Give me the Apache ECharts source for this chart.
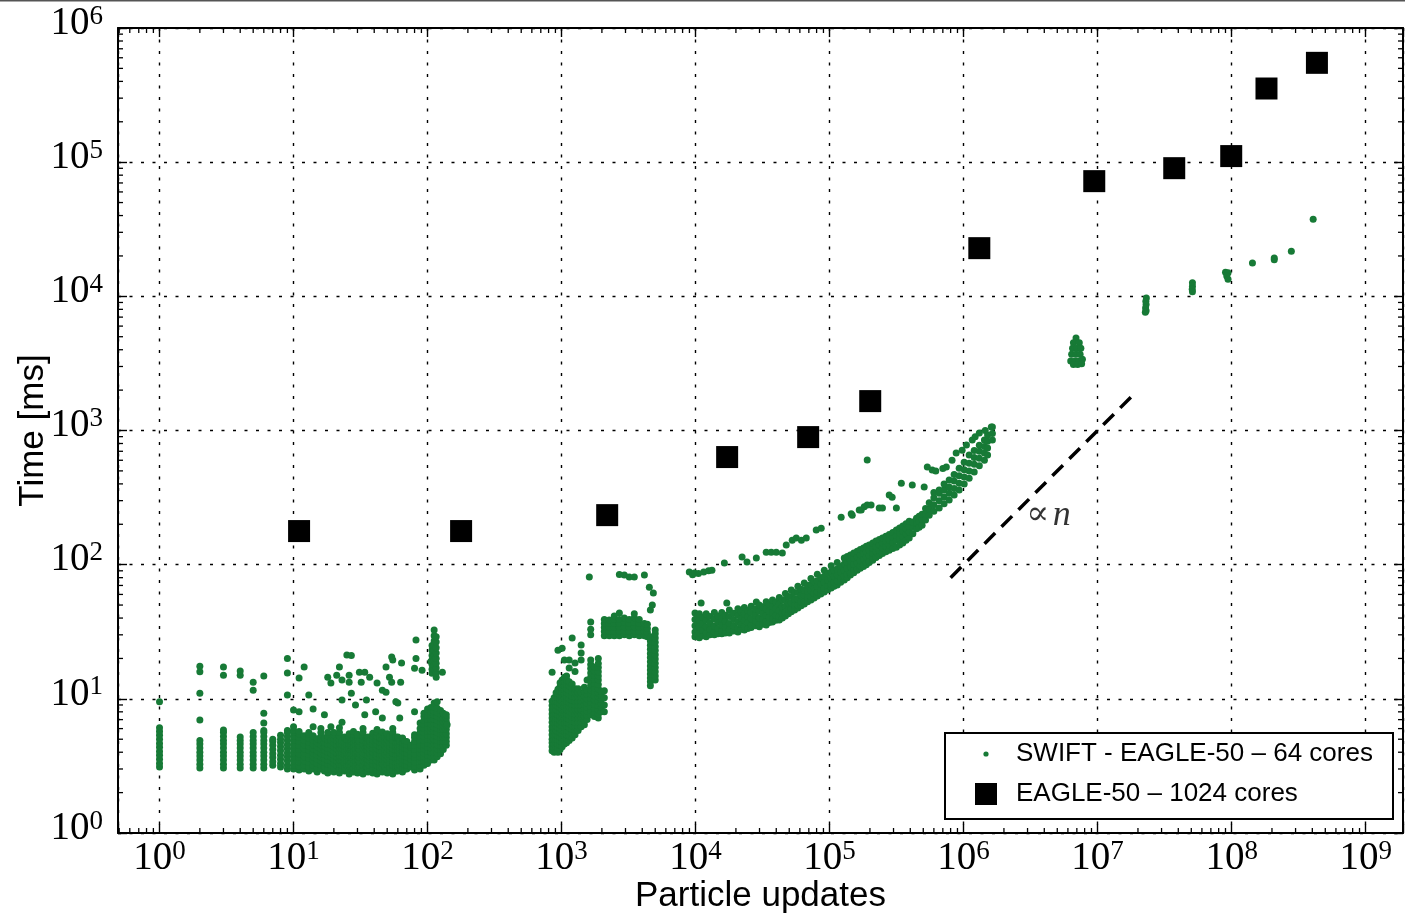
<!DOCTYPE html>
<html><head><meta charset="utf-8">
<script src="https://cdn.jsdelivr.net/npm/echarts@6/dist/echarts.min.js"></script>
<style>html,body{margin:0;padding:0;background:#fff;overflow:hidden}#chart{width:1405px;height:915px}</style>
</head><body><div id="chart"></div>
<script>
// ---------- data ----------
const seriesNames = ['SWIFT - EAGLE-50 – 64 cores', 'EAGLE-50 – 1024 cores'];
const xAxisTitle = 'Particle updates';
const yAxisTitle = 'Time [ms]';
const guideLabel = '∝ n';
const xRange = [0.49, 1.9e9];
const yRange = [1, 1e6];
const minorMultipliers = [2, 3, 4, 5, 6, 7, 8, 9];

// EAGLE-50, 1024 cores (black squares)
const eagleN = [11, 178, 2190, 17200, 69200, 201000, 1.31e6, 9.44e6, 3.73e7, 9.93e7, 1.82e8, 4.33e8];
const eagleT = [178, 178, 234, 634, 893, 1656, 22860, 72200, 90200, 111000, 354000, 550000];

// proportional-to-n guide line and its label
const guideN = [8.0e5, 1.8e7];
const guideT = [80, 1800];
const guideLabelAt = [4.3e6, 234];

// SWIFT, 64 cores: columns [n, [times...]]
const swiftSmallN = [
  [1,[3.1,3.3,3.55,3.8,4.05,4.35,4.65,5.0,5.35,5.7,6.1,9.5]],
  [2,[3.05,3.25,3.5,3.75,4.0,4.3,4.6,4.9,6.95,11,15.9,17.5]],
  [3,[3.05,3.25,3.5,3.75,4.0,4.3,4.6,4.9,5.25,5.6,5.85,15,17.3]],
  [4,[3.05,3.25,3.5,3.75,4.0,4.3,4.6,4.9,5.2,15,16.1]],
  [5,[3.05,3.25,3.5,3.75,4.0,4.3,4.6,4.9,5.25,5.6,11.6,13.3]],
  [6,[3.05,3.25,3.5,3.75,4.0,4.3,4.6,4.9,5.25,5.6,5.8,6.6,7.8,14.8]],
  [7,[3.2,3.4,3.65,3.9,4.2,4.5,4.8,5.0]],
  [8,[3.1,3.3,3.55,3.8,4.1,4.4,4.7,5.0,5.35]],
  [9,[3.0,3.2,3.45,3.7,3.95,4.25,4.55,4.9,5.25,5.6,5.8,10.7,15.6,20]]
];
const swiftBand = [
  [10,[3.0,3.2,3.45,3.7,3.95,4.25,4.55,4.9,5.25,5.6,5.8,6.2,8.25]],
  [11,[2.95,3.15,3.4,3.65,3.9,4.2,4.5,4.8,5.15,5.5,5.7,8.0,14.3]],
  [12,[3.0,3.2,3.45,3.7,3.95,4.25,4.55,4.9,5.3,17.3]],
  [13,[2.9,3.1,3.35,3.6,3.85,4.15,4.45,4.75,5.1,5.45,5.6,10.7]],
  [14,[3.0,3.2,3.45,3.7,3.95,4.25,4.55,4.9,5.3,6.2,8.4]],
  [15,[2.85,3.05,3.3,3.55,3.8,4.1,4.4,4.7,5.05]],
  [16,[3.0,3.2,3.45,3.7,3.95,4.25,4.55,4.9,5.25,5.6,6.0]],
  [17,[2.9,3.1,3.35,3.6,3.85,4.15,4.45,4.75,5.1,7.6]],
  [18,[2.8,3.0,3.25,3.5,3.75,4.0,4.3,4.6,4.95,5.3,5.6,14.5]],
  [19,[3.0,3.2,3.45,3.7,3.95,4.25,4.55,4.9,6.2,13.1]],
  [20,[2.85,3.05,3.3,3.55,3.8,4.1,4.4,4.7,5.05,5.4,5.6]],
  [21,[3.0,3.2,3.45,3.7,3.95,4.25,4.55,4.9,15.0]],
  [22,[2.8,3.0,3.25,3.5,3.75,4.0,4.3,4.6,4.95,5.3,5.6,6.1,17.3]],
  [23,[3.0,3.2,3.45,3.7,3.95,4.25,4.55,4.85,6.7,9.8,13.8]],
  [24,[2.9,3.1,3.35,3.6,3.85,4.15,4.45,4.75,5.1,5.2]],
  [25,[3.0,3.2,3.45,3.7,3.95,4.25,4.55,4.95,21.2]],
  [26,[2.75,2.95,3.2,3.45,3.7,3.95,4.25,4.55,4.9,5.25,5.5,13.3,15]],
  [27,[2.95,3.15,3.4,3.65,3.9,4.2,4.5,4.8,11,21]],
  [28,[2.85,3.05,3.3,3.55,3.8,4.1,4.4,4.7,5.05,5.4,5.7]],
  [29,[3.0,3.2,3.45,3.7,3.95,4.25,4.55,4.9,9]],
  [30,[2.8,3.0,3.25,3.5,3.75,4.0,4.3,4.6,4.95,5.3,5.45]],
  [31,[2.95,3.15,3.4,3.65,3.9,4.2,4.5,4.8,15.8]],
  [32,[13.3]],
  [33,[2.75,2.95,3.2,3.45,3.7,3.95,4.25,4.55,4.9,5.25,5.6,6.0]],
  [34,[7.6,15.8]],
  [35,[2.9,3.1,3.35,3.6,3.85,4.15,4.45,4.75,5.1,9.8]],
  [36,[2.85,3.05,3.3,3.55,3.8,4.1,4.4,4.7,5.05,5.2]],
  [37,[3.0,3.2,3.45,3.7,3.95,4.25,4.55,4.85,14.5]],
  [39,[2.8,3.0,3.25,3.5,3.75,4.0,4.3,4.6,4.95,5.3,5.55]],
  [41,[2.9,3.1,3.35,3.6,3.85,4.15,4.45,4.75,5.1,5.25,8.0]],
  [42,[2.75,2.95,3.2,3.45,3.7,3.95,4.25,4.55,4.9,5.25,5.6,5.9,13.1]],
  [44,[2.9,3.1,3.35,3.6,3.85,4.15,4.45,4.75,5.1,5.2]],
  [46,[2.85,3.05,3.3,3.55,3.8,4.1,4.4,4.7,5.05,5.4,5.65,7.2,11.6]],
  [48,[2.95,3.15,3.4,3.65,3.9,4.2,4.5,4.8,5.15,5.3]],
  [49,[11.2,17.3]],
  [50,[2.8,3.0,3.25,3.5,3.75,4.0,4.3,4.6,4.95,5.3,5.5]],
  [52,[2.9,3.1,3.35,3.6,3.85,4.15,4.45,4.75,5.1,5.2,14.5]],
  [54,[13.3,20.5]],
  [55,[2.75,2.95,3.2,3.45,3.7,3.95,4.25,4.55,4.9,5.25,5.6,6.0,19.5]],
  [58,[2.9,3.1,3.35,3.6,3.85,4.15,4.45,4.75,5.1,5.2,9.5]],
  [60,[2.9,3.1,3.35,3.6,3.85,4.15,4.45,4.75,5.1,5.2,9.3]],
  [62,[3.0,3.2,3.45,3.7,3.95,4.25,4.55,4.85,7.2]],
  [63,[13.3]],
  [64,[18.5]],
  [65,[2.85,3.05,3.3,3.55,3.8,4.1,4.4,4.7,5.05,5.1]],
  [68,[3.0,3.2,3.45,3.7,3.95,4.25,4.55,4.8]],
  [70,[3.0,3.2,3.45,3.7,3.95,4.25,4.55,4.8]],
  [75,[3.1,3.3,3.55,3.8,4.05,4.35,4.5]]
];
const swiftNear100 = [
  [80,[2.95,3.15,3.4,3.65,3.9,4.2,4.5,4.8,5.15,5.4,8.0,16.9]],
  [82,[20,27.4]],
  [88,[3.0,3.2,3.45,3.7,3.95,4.25,4.55,4.9,5.25,5.6,6.0,6.6]],
  [91,[16.3]],
  [94,[3.2,3.45,3.7,3.95,4.25,4.55,4.9,5.25,5.6,6.0,6.45,6.9,7.4,7.8]],
  [100,[3.3,3.55,3.8,4.05,4.35,4.65,5.0,5.35,5.7,6.1,6.55,7.0,7.5,8.0,8.4]],
  [106,[3.5,3.75,4.0,4.3,4.6,4.95,5.3,5.7,6.1,6.5,7.0,7.5,8.0,8.6,19]],
  [108,[15.5,16.6,18,19.4,21,23,25]],
  [112,[3.5,3.75,4.0,4.3,4.6,4.95,5.3,5.7,6.1,6.5,7.0,7.5,8.0,8.6,9.3,16.5,17.8,19.5,21.2,23,25,27,29.5,32.6]],
  [116,[14.5,15.6,17,18.4,20,22,24,26.5,29]],
  [118,[3.7,3.95,4.25,4.55,4.9,5.25,5.6,6.0,6.45,6.9,7.4,7.9,8.5,9.5]],
  [125,[3.9,4.2,4.5,4.8,5.15,5.5,5.9,6.3,6.75,7.2,7.7,8.2]],
  [129,[15.8]],
  [131,[4.2,4.5,4.8,5.15,5.5,5.9,6.3,6.75,7.2,7.8]],
  [133,[7.6]],
  [138,[4.5,4.8,5.15,5.5,5.9,6.3,6.75,7.2,7.6]],
  [140,[6.4]]
];
const swiftNear1000 = [
  [850,[4.1,4.4,4.7,5.0,5.4,5.8,6.2,6.7,7.2,7.7,8.3,8.9,9.6,15.8]],
  [880,[4.0,4.3,4.6,4.95,5.3,5.7,6.1,6.6,7.1,7.6,8.2,8.8,9.5,10.2]],
  [910,[4.05,4.35,4.7,5.0,5.4,5.8,6.25,6.7,7.2,7.75,8.3,8.9,9.6,10.3,11.1]],
  [940,[4.0,4.3,4.6,4.95,5.3,5.7,6.1,6.6,7.1,7.6,8.2,8.8,9.5,10.2,11,11.8,23]],
  [975,[4.2,4.5,4.85,5.2,5.6,6.0,6.45,6.9,7.4,8.0,8.6,9.2,9.9,10.6,11.4,12.3,13.2]],
  [1010,[4.4,4.7,5.05,5.4,5.8,6.25,6.7,7.2,7.7,8.3,8.9,9.6,10.3,11.1,11.9,12.8,13.8,23.8]],
  [1050,[4.6,4.95,5.3,5.7,6.1,6.6,7.1,7.6,8.2,8.8,9.4,10.1,10.9,11.7,12.6,13.5,14.5,19.5]],
  [1090,[4.7,5.05,5.4,5.8,6.25,6.7,7.2,7.7,8.3,8.9,9.6,10.3,11.1,11.9,12.8,13.8,14.8]],
  [1140,[4.9,5.3,5.7,6.1,6.55,7.0,7.55,8.1,8.7,9.35,10.0,10.8,11.6,12.5,13.4,17,19.5]],
  [1200,[5.1,5.5,5.9,6.3,6.8,7.3,7.8,8.4,9.0,9.7,10.4,11.2,12.0,12.9,28.4]],
  [1260,[5.4,5.8,6.2,6.7,7.2,7.7,8.3,8.9,9.6,10.3,11.1,11.9,16,18.5]],
  [1330,[5.8,6.2,6.7,7.2,7.7,8.3,8.9,9.6,10.3,11.1,11.9]],
  [1400,[6.2,6.7,7.2,7.7,8.3,8.9,9.6,10.3,11.1,19.5,22,25.2]],
  [1480,[6.4,6.9,7.4,7.9,8.5,9.1,9.8,10.5,11.3,12.2]],
  [1550,[7.0,7.5,8.1,8.7,9.3,10.0,10.8,11.6,13.8]],
  [1611,[81]],
  [1650,[7.6,8.2,8.8,9.4,10.1,10.9,11.7,12.6,13.5,14.5,15.6,16.8,18,19.5,30,33,37.4]],
  [1760,[7.4,7.9,8.5,9.1,9.8,10.5,11.3,12.1,13.0,14.0,15.0,16.1,17.3]],
  [1880,[7.2,7.7,8.3,8.9,9.6,10.3,11.1,11.9,12.8,13.8,14.8,15.9,17.1,18.3,20]],
  [1980,[8.0,8.6,9.2,9.9,10.6,11.4]],
  [2085,[8,9,10.2,11.5,29.5,31.7,34,36.5,39]],
  [2270,[29.5,31.7,34,36.5,38.7]],
  [2475,[29.5,31.7,34,36.5,39,41.5]],
  [2700,[29.5,31.7,34,36.5,39,43.6,84.5]],
  [2940,[30,32.2,34.5,37,40,83.6]],
  [3200,[29.5,31.7,34,36.5,39,81]],
  [3490,[30,32.2,34.5,37,40,43,81]],
  [3800,[29.5,31.7,34,36.5,39]],
  [4150,[29.5,31.7,34,36.5,83.6]],
  [4370,[29,31.2,33.5,36]],
  [4518,[68]],
  [4600,[12.5,13.4,14.3,15.3,16.4,17.6,18.9,20.3,21.8,23.4,25.1,27,29,46]],
  [4755,[50]],
  [4840,[61.5]],
  [5000,[13.8,14.8,15.9,17.1,18.4,19.8,21.3,22.9,24.6,26.4,28.4,30.5,32.6]]
];
const swiftLowerBranch = [
  [9900,[29,31.5,35,39,43.6]],
  [10300,[30,33,36.8,41]],
  [10670,[28.5,31,34.5,38.5,43]],
  [11000,[51.8]],
  [11300,[29.5,32.5,36.5,40.5]],
  [12000,[29,31,34.5,38.5,43]],
  [12800,[30,33,36.8,41]],
  [13810,[30,31.5,35,39.5,44]],
  [14700,[30.5,33.5,37.4,41.5]],
  [15700,[30.5,32,35.5,39.5,44]],
  [16700,[31,34,37.8,42]],
  [17100,[51.8]],
  [17870,[31,33,36.5,41,46]],
  [19200,[32,35,39,43.5]],
  [20700,[31.5,33.5,37.5,42,47]],
  [21900,[33,36,40,44.5]],
  [23120,[32.6,34.5,38.5,43,48]],
  [24500,[33.5,37,41,45.5]],
  [26000,[34,35.5,39.5,44,49]],
  [28000,[35,38,42,47]],
  [28400,[52.8]],
  [29900,[34.5,36,40,45,50]],
  [31700,[36,39.5,43.5,48.5]],
  [33650,[35.5,38,42,47,53]],
  [35500,[37,40.5,45,50.5]],
  [37500,[37.4,39.5,44,49,54.5]],
  [39800,[38.5,42,47,52.5]],
  [42150,[38.7,41,45.5,51,57]],
  [44400,[40,43.5,48.5,54.5]],
  [46800,[41.5,44,49,55,61]],
  [49300,[43,46.5,52,58]],
  [51800,[44.5,47,52,58,64.7]],
  [54800,[46,50,55.5,62]],
  [58000,[47.5,50,55.5,62,69]],
  [61300,[49.5,53,59,65.5]],
  [64740,[51,53.5,59,65,73]],
  [68500,[53,57,63,70]],
  [72600,[54.5,58,64,71,79]],
  [76700,[56.5,61,67,74.5]],
  [81000,[58.5,62.5,69,76,85]],
  [86000,[60.5,65,72,80]],
  [91250,[62.5,66.5,74,82,91]],
  [97000,[65,70,77,86]],
  [102800,[67,71,79,88,98]],
  [108000,[69,74,82,91]],
  [114000,[70.5,76,84,93,104]],
  [121000,[74,79,88,97]],
  [128700,[76.8,82,91,101,112]],
  [135500,[80,85,94,104,115]],
  [143000,[83.6,87,96,107,118]],
  [151500,[87,92,101,112,122]],
  [160700,[91,93,103,114,126]],
  [169500,[94,98,108,118,130]],
  [179000,[97,100,110,121,133]],
  [188000,[100,104,114,125,137]],
  [197700,[104,106,117,128,140]],
  [210000,[108,112,122,133,145]],
  [222000,[113,114,125,137,150]],
  [235000,[117,128,140,154]],
  [248000,[121,133,145,158]],
  [263000,[125,137,149,163]],
  [278600,[128,140,153,168]],
  [296000,[132,146,160,174]],
  [315000,[135,152,166,181]],
  [333000,[140,157,172,188]],
  [352000,[145,163,178,194]],
  [372000,[152,170,185,202]],
  [392800,[158,176,193,211]],
  [418000,[170,190,208]],
  [445000,[185,204,222]],
  [466000,[190,211,230]],
  [490000,[197,218,238]],
  [520000,[215,240,262]],
  [553700,[234,260,290]],
  [600000,[250,280,315,345]],
  [657400,[264,300,340,360]],
  [715000,[285,320,360,400]],
  [780500,[303,340,380,427]],
  [850000,[330,370,420,470]],
  [926600,[360,405,460,523]],
  [1.01e6,[400,450,510,580]],
  [1.10e6,[440,500,570,656]],
  [1.20e6,[490,560,630,710]],
  [1.31e6,[545,620,700,778]],
  [1.43e6,[600,680,760,850]],
  [1.51e6,[656,740,830,924]],
  [1.64e6,[848,950,1060]]
];
const swiftUpperBranch = [
  [8980,88],[9500,84],[9800,86.6],[10500,86],[11500,88],[12500,90],[13250,91],[16400,103],
  [22230,114],[24200,104.5],[28400,112],[33650,124],[36700,124],[40000,124],[44400,122],
  [47500,140],[52600,152],[56400,158],[61600,152],[67000,158],[79500,181],[86600,187],
  [122000,226],[145000,240],[147600,234],[166500,255],[172200,255],[181400,270],[190900,278],
  [204000,278],[234700,264],[248000,264],[278600,330],[293000,318],[315000,264],[343000,405],
  [414000,392],[508000,379],[190900,602],[536000,534],[583000,507],[620000,500],[700000,520],
  [743000,534],[820000,600],[880000,679],[975000,714],[1.05e6,780],[1.16e6,848],[1.22e6,900],
  [1.31e6,957],[1.45e6,1000],[1.61e6,1060]
];
const swiftLargeN = [
  [6.9e6,4900],[6.6e6,4500],[7.3e6,4500],[6.5e6,4100],[7.0e6,4100],[7.5e6,4100],[6.4e6,3700],
  [6.9e6,3700],[7.4e6,3700],[6.3e6,3300],[6.8e6,3300],[7.3e6,3300],[7.7e6,3400],[6.6e6,3100],
  [7.1e6,3100],[7.6e6,3150],
  [2.31e7,9700],[2.29e7,9200],[2.3e7,8700],[2.28e7,8200],[2.3e7,7800],[2.27e7,7600],
  [5.1e7,12600],[5.1e7,11900],[5.08e7,11300],[5.1e7,10800],
  [9.0e7,15100],[9.4e7,15000],[9.2e7,14200],[9.4e7,13400],
  [1.43e8,17700],[2.08e8,19300],[2.08e8,18700],[2.79e8,21700],[4.06e8,37600]
];

// ---------- build ----------
function flattenColumns(cols) {
  const out = [];
  cols.forEach(([n, ts]) => ts.forEach(t => out.push([n, t])));
  return out;
}
const swiftData = [].concat(
  flattenColumns(swiftSmallN), flattenColumns(swiftBand), flattenColumns(swiftNear100),
  flattenColumns(swiftNear1000), flattenColumns(swiftLowerBranch), swiftUpperBranch, swiftLargeN);
const eagleData = eagleN.map((n, i) => [n, eagleT[i]]);
const guideData = guideN.map((n, i) => [n, guideT[i]]);

const minorX = [], minorY = [];
for (let e = -1; e <= 9; e++) minorMultipliers.forEach(m => { const v = m * Math.pow(10, e); if (v > xRange[0] && v < xRange[1]) minorX.push(v); });
for (let e = 0; e <= 5; e++) minorMultipliers.forEach(m => minorY.push(m * Math.pow(10, e)));

const GREEN = '#177a36';
const serif = 'Liberation Serif';
const sans = 'Liberation Sans';

function powLabel(v) {
  const e = Math.log10(v), r = Math.round(e);
  return Math.abs(e - r) < 1e-6 ? '{b|10}{e|' + r + '}' : '';
}
const powRich = {
  b: { fontFamily: serif, fontSize: 39, color: '#000', lineHeight: 40, verticalAlign: 'bottom' },
  e: { fontFamily: serif, fontSize: 27, color: '#000', lineHeight: 26, verticalAlign: 'top' }
};
const gridDash = { color: '#000', width: 1.4, type: [3, 8.5] };
const frameLine = { show: true, onZero: false, lineStyle: { color: '#000', width: 2 } };
const majorTick = { show: true, inside: true, length: 9, lineStyle: { color: '#000', width: 1.4 } };

function minorTickSeries(dim, values) {
  return {
    type: 'custom', silent: true, z: 5, clip: false,
    xAxisIndex: 0, yAxisIndex: 0,
    data: values.map(v => dim === 'x' ? [v, 10] : [1, v]),
    encode: { x: 0, y: 1 },
    renderItem(params, api) {
      const cs = params.coordSys;
      const p = api.coord([api.value(0), api.value(1)]);
      const L = 5;
      const segs = dim === 'x'
        ? [[p[0], cs.y + cs.height, p[0], cs.y + cs.height - L], [p[0], cs.y, p[0], cs.y + L]]
        : [[cs.x, p[1], cs.x + L, p[1]], [cs.x + cs.width, p[1], cs.x + cs.width - L, p[1]]];
      return { type: 'group', children: segs.map(s => ({ type: 'line', shape: { x1: s[0], y1: s[1], x2: s[2], y2: s[3] }, style: { stroke: '#000', lineWidth: 1.3 } })) };
    }
  };
}

const legendFont = '26px "Liberation Sans"';

const chart = echarts.init(document.getElementById('chart'), null, { renderer: 'canvas' });
chart.setOption({
  animation: false,
  backgroundColor: '#fff',
  grid: { left: 118, right: 2, top: 28, bottom: 82, containLabel: false, outerBoundsMode: 'none' },
  xAxis: [
    {
      type: 'log', min: xRange[0], max: xRange[1], position: 'bottom',
      axisLine: frameLine, axisTick: majorTick,
      axisLabel: { show: true, interval: 0, margin: 5, formatter: powLabel, rich: powRich, showMinLabel: true, showMaxLabel: true, hideOverlap: false },
      splitLine: { show: true, lineStyle: gridDash },
      minorTick: { show: false }, minorSplitLine: { show: false },
      name: xAxisTitle, nameLocation: 'middle', nameGap: 46, nameMoveOverlap: false,
      nameTextStyle: { fontFamily: sans, fontSize: 35, color: '#000' }
    },
    {
      type: 'log', min: xRange[0], max: xRange[1], position: 'top',
      axisLine: frameLine, axisTick: majorTick, axisLabel: { show: false }, splitLine: { show: false }
    }
  ],
  yAxis: [
    {
      type: 'log', min: yRange[0], max: yRange[1], position: 'left',
      axisLine: frameLine, axisTick: majorTick,
      axisLabel: { show: true, interval: 0, margin: 15, padding: [0, 0, 10, 0], formatter: powLabel, rich: powRich, showMinLabel: true, showMaxLabel: true, hideOverlap: false },
      splitLine: { show: true, lineStyle: gridDash },
      name: yAxisTitle, nameLocation: 'middle', nameGap: 67, nameRotate: 90, nameMoveOverlap: false,
      nameTextStyle: { fontFamily: sans, fontSize: 35, color: '#000' }
    },
    {
      type: 'log', min: yRange[0], max: yRange[1], position: 'right',
      axisLine: frameLine, axisTick: majorTick, axisLabel: { show: false }, splitLine: { show: false }
    }
  ],
  graphic: [
    { type: 'rect', z: 3, shape: { x: 945, y: 733, width: 448, height: 86 }, style: { fill: '#fff', stroke: '#000', lineWidth: 2 } },
    { type: 'circle', z: 4, shape: { cx: 986, cy: 754, r: 2.6 }, style: { fill: GREEN } },
    { type: 'text', z: 4, x: 1016, y: 754, style: { text: seriesNames[0], font: legendFont, fill: '#000', verticalAlign: 'middle', align: 'left' } },
    { type: 'rect', z: 4, shape: { x: 975, y: 783, width: 22, height: 22 }, style: { fill: '#000' } },
    { type: 'text', z: 4, x: 1016, y: 794, style: { text: seriesNames[1], font: legendFont, fill: '#000', verticalAlign: 'middle', align: 'left' } },
    { type: 'line', z: 10, shape: { x1: 0, y1: 0.5, x2: 1405, y2: 0.5 }, style: { stroke: '#555', lineWidth: 2 } }
  ],
  series: [
    {
      name: seriesNames[0], type: 'scatter', data: swiftData, symbol: 'circle', symbolSize: 7,
      itemStyle: { color: GREEN, opacity: 1 }, z: 2, silent: true
    },
    {
      name: seriesNames[1], type: 'scatter', data: eagleData, symbol: 'rect', symbolSize: 22,
      itemStyle: { color: '#000', opacity: 1 }, z: 2, silent: true
    },
    {
      type: 'line', data: guideData, symbol: 'none', silent: true, z: 3,
      lineStyle: { color: '#000', width: 3.5, type: [15, 9] }
    },
    {
      type: 'scatter', data: [guideLabelAt], symbolSize: 1, silent: true, z: 3,
      itemStyle: { color: 'rgba(0,0,0,0)' },
      label: {
        show: true, position: 'inside',
        formatter: () => { const [a, b] = guideLabel.split(' '); return '{a|' + a + '}{s| }{n|' + b + '}'; },
        rich: {
          a: { fontFamily: 'DejaVu Serif', fontSize: 34, color: '#000' },
          s: { fontSize: 12 },
          n: { fontFamily: serif, fontStyle: 'italic', fontSize: 36, color: '#000' }
        }
      }
    },
    minorTickSeries('x', minorX),
    minorTickSeries('y', minorY)
  ]
});
</script>
</body></html>
